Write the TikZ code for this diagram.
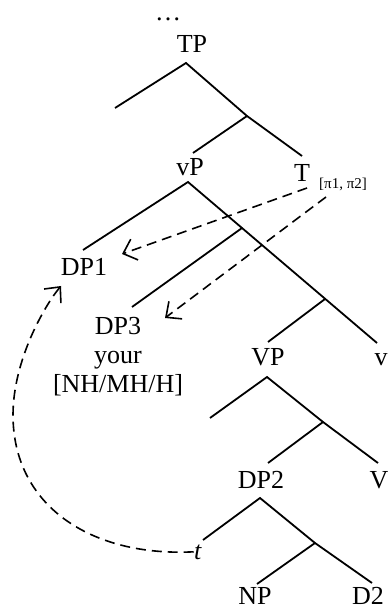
\documentclass[tikz,border=0pt]{standalone}
\usepackage{fontspec}
\setmainfont{Liberation Serif}
\usetikzlibrary{arrows.meta}

\begin{document}
\begin{tikzpicture}[
  x=0.5pt, y=-0.5pt,
  font=\fontsize{13}{15}\selectfont,
  lbl/.style={anchor=base, inner sep=0pt},
  feature/.style={anchor=base, inner sep=0pt, font=\fontsize{7.5}{9}\selectfont},
  branch/.style={line width=0.9pt},
  move/.style={line width=0.8pt, dash pattern=on 5pt off 3pt, -{Straight Barb[length=6pt,width=11pt]}}
]
\useasboundingbox (0,0) rectangle (390,608);

% labels
\node[lbl] (dots) at (168,21) {\ldots};
\node[lbl] (tp) at (192,53) {TP};
\node[lbl] (vp) at (190,176) {vP};
\node[lbl] (t) at (302,182) {T};
\node[feature] (feat) at (343,189) {[π1, π2]};
\node[lbl] (dp1) at (84,276) {DP1};
% base of a multi-line node sits on its last line
\node[lbl, align=center, font=\fontsize{13}{14.5}\selectfont] (dp3) at (118,392) {DP3\\ your\\ {[NH/MH/H]}};
\node[lbl] (vpbig) at (268,365) {VP};
\node[lbl] (vlite) at (381,365) {v};
\node[lbl] (dp2) at (261,488) {DP2};
\node[lbl] (vbig) at (379,488) {V};
\node[lbl] (trace) at (198,559) {\textit{t}};
\node[lbl] (np) at (255,604) {NP};
\node[lbl] (d2) at (368,604) {D2};

% branch points
\coordinate (tpa) at (186,63);
\coordinate (tpl) at (115,108);
\coordinate (tbar) at (247,116);
\coordinate (ttop) at (302,156);
\coordinate (vptop) at (193,153);
\coordinate (vpa) at (188,182);
\coordinate (dp1top) at (83,250);
\coordinate (vbar1) at (242,228);
\coordinate (dp3top) at (132,307);
\coordinate (vbar2) at (325,299);
\coordinate (vtop) at (377,343);
\coordinate (vpbigtop) at (268,342);
\coordinate (vpbiga) at (267,377);
\coordinate (vpl) at (210,418);
\coordinate (vbarbig) at (323,422);
\coordinate (dp2top) at (268,463);
\coordinate (vbigtop) at (378,463);
\coordinate (dp2a) at (260,498);
\coordinate (tracetop) at (203,540);
\coordinate (dbar) at (315,543);
\coordinate (nptop) at (257,584);
\coordinate (d2top) at (372,583);

% tree
\draw[branch] (tpl) -- (tpa) -- (tbar) -- (ttop);
\draw[branch] (tbar) -- (vptop);
\draw[branch] (dp1top) -- (vpa) -- (vtop);
\draw[branch] (vbar1) -- (dp3top);
\draw[branch] (vbar2) -- (vpbigtop);
\draw[branch] (vpl) -- (vpbiga) -- (vbarbig) -- (vbigtop);
\draw[branch] (vbarbig) -- (dp2top);
\draw[branch] (tracetop) -- (dp2a) -- (dbar) -- (d2top);
\draw[branch] (dbar) -- (nptop);

% agree / move
\coordinate (agree1) at (307,188);
\coordinate (agree2) at (326,197);
\coordinate (goal1) at (122,254);
\coordinate (goal3) at (165,318);
\coordinate (land) at (61,286);
\draw[move] (agree1) -- (goal1);
\draw[move] (agree2) -- (goal3);
\draw[move] (trace.west) .. controls (90,557) and (13,505) .. (13,415)
  .. controls (13,360) and (45,305) .. (land);

\end{tikzpicture}
\end{document}
